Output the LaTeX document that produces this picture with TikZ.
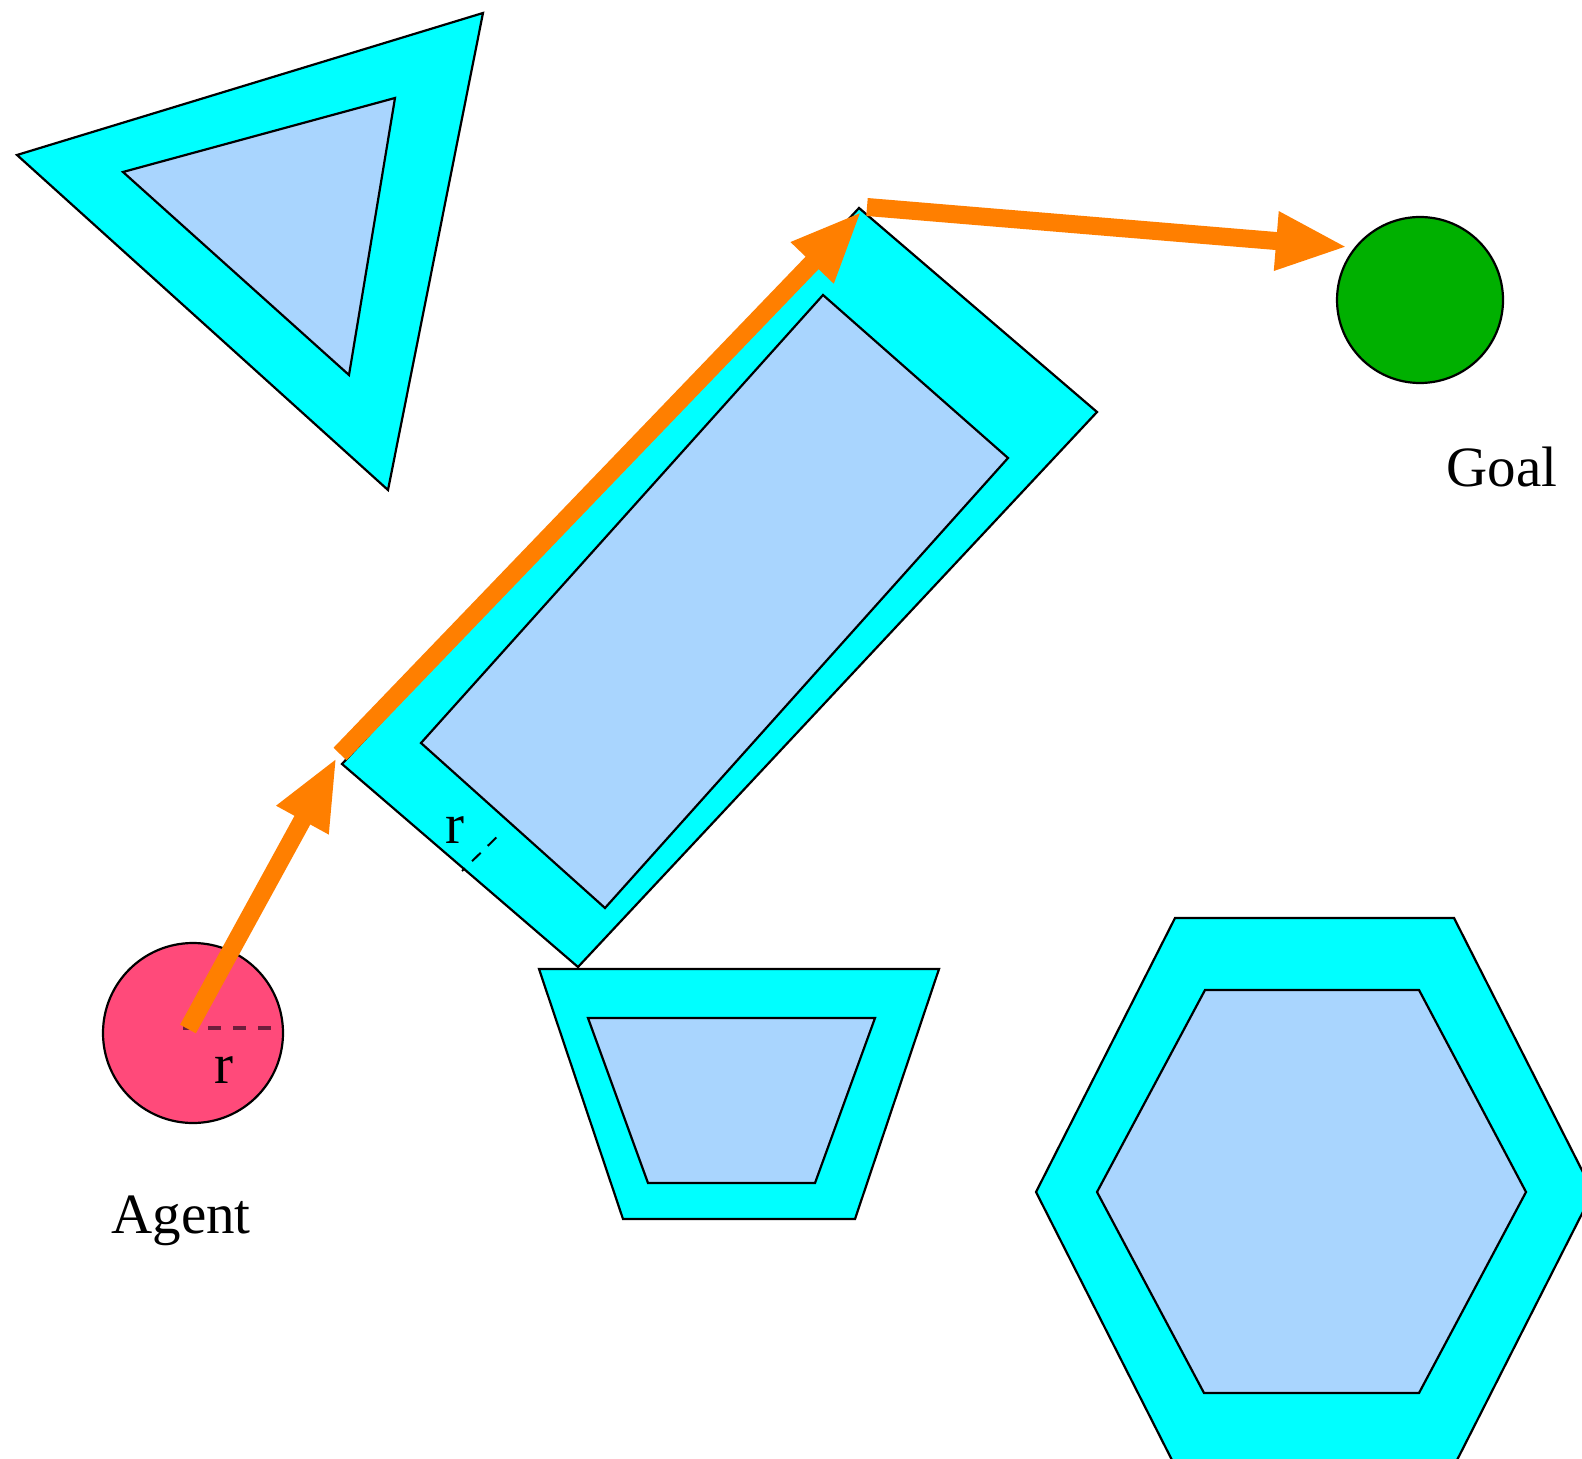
\documentclass[tikz,border=0pt]{standalone}
\usepackage{fontspec}
\setmainfont{Liberation Serif}
\usetikzlibrary{arrows.meta}
\definecolor{band}{RGB}{0,255,255}
\definecolor{core}{RGB}{169,213,254}
\definecolor{agentred}{RGB}{255,74,122}
\definecolor{goalgreen}{RGB}{0,176,0}
\definecolor{pathorange}{RGB}{255,127,0}
\definecolor{radiusline}{RGB}{110,30,60}
\tikzset{
  obstacle/.style={fill=band, draw=black, line width=1.1pt, line join=miter},
  inner/.style={fill=core, draw=black, line width=1.1pt, line join=miter},
  disc/.style={circle, draw=black, line width=1.1pt, inner sep=0pt},
  route/.style={draw=pathorange, line width=9pt,
    -{Triangle[length=36pt,width=27pt]}},
  lbl/.style={font=\fontsize{28.5pt}{34pt}\selectfont, inner sep=0pt, anchor=base},
}
\begin{document}
\begin{tikzpicture}[x=0.5pt,y=-0.5pt]
\clip (0,0) rectangle (1582,1459);
\fill[white] (0,0) rectangle (1582,1459);

% triangle obstacle with its inflated band
\draw[obstacle] (17,155) -- (483,13) -- (388,490) -- cycle;
\draw[inner] (123,172) -- (395,98) -- (349,375) -- cycle;

% tilted rectangle obstacle
\draw[obstacle] (859,208) -- (1097,412) -- (578,967) -- (342,764) -- cycle;
\draw[inner] (823,295) -- (1008,458) -- (605,908) -- (421,743) -- cycle;

% trapezoid obstacle
\draw[obstacle] (539,969) -- (939,969) -- (855,1219) -- (623,1219) -- cycle;
\draw[inner] (588,1018) -- (875,1018) -- (815,1183) -- (648,1183) -- cycle;

% hexagon obstacle
\draw[obstacle] (1175,918) -- (1454,918) -- (1593,1192) -- (1454,1466)
  -- (1175,1466) -- (1036,1192) -- cycle;
\draw[inner] (1205,990) -- (1419,990) -- (1526,1192) -- (1419,1393)
  -- (1204,1393) -- (1097,1192) -- cycle;

% band width marker on the rectangle
\coordinate (bo) at (462,871);
\coordinate (bi) at (503.5,830.5);
\draw[black, line width=1pt, dash pattern=on 6pt off 5pt, dash phase=4pt] (bo) -- (bi);
\node[lbl] (rr) at (455,843) {r};

% agent and goal
\node[disc, fill=agentred, minimum size=90pt] (agent) at (193,1033) {};
\node[disc, fill=goalgreen, minimum size=83pt] (goal) at (1420,300) {};

\coordinate (ra0) at (183,1028);
\coordinate (ra1) at (280,1028);
\draw[radiusline, line width=1.75pt, dash pattern=on 6.5pt off 6pt] (ra0) -- (ra1);
\node[lbl] (ra) at (224,1083) {r};

\node[lbl] (agentlabel) at (181,1233) {Agent};
\node[lbl] (goallabel) at (1502,487) {Goal};

% planned path
\coordinate (s1) at (188,1029);
\coordinate (t1) at (337,757);
\coordinate (s2) at (340,754);
\coordinate (t2) at (862,211);
\coordinate (s3) at (867,207);
\coordinate (t3) at (1348,247);
\draw[route] (s1) -- (t1);
\draw[route] (s2) -- (t2);
\draw[route] (s3) -- (t3);
\end{tikzpicture}
\end{document}
